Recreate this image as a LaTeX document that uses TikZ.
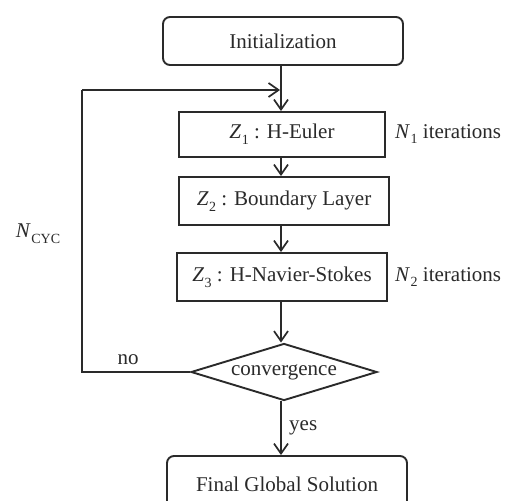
\documentclass[tikz,border=0pt]{standalone}
\usepackage{fontspec}
\setmainfont{Liberation Serif}
\usetikzlibrary{shapes.geometric,arrows.meta}
\definecolor{ink}{HTML}{2A2A2A}
\newcommand{\sym}[2]{\textit{#1}\kern0.5pt\raisebox{-0.28em}{\fontsize{14}{16}\selectfont #2}}
\begin{document}
\begin{tikzpicture}[x=1pt,y=-1pt,
  every node/.style={text=ink, font=\fontsize{21}{24}\selectfont},
  box/.style={draw=ink, line width=1.9pt, inner sep=0pt},
  rbox/.style={box, rounded corners=7pt},
  dia/.style={draw=ink, line width=1.9pt, diamond, shape aspect=3.2, inner sep=0pt, minimum width=186pt, minimum height=57pt},
  arr/.style={draw=ink, line width=1.9pt, -{Straight Barb[length=10pt,width=14pt,line width=1.7pt]}},
  ln/.style={draw=ink, line width=1.9pt},
  lab/.style={inner sep=0pt}]
\useasboundingbox (0,0) rectangle (513,500);
\clip (0,0) rectangle (513,500);
\fill[white] (0,0) rectangle (513,500);

\node[rbox, minimum width=240pt, minimum height=48pt] (init) at (283,41) {Initialization};
\node[box, minimum width=206pt, minimum height=45pt] (z1) at (282,134.5) {\sym{Z}{1} : H-Euler};
\node[box, minimum width=210pt, minimum height=48pt] (z2) at (284,201) {\sym{Z}{2} : Boundary Layer};
\node[box, minimum width=210pt, minimum height=48pt] (z3) at (282,277) {\sym{Z}{3} : H-Navier-Stokes};
\node[dia] (conv) at (284,372) {convergence};
\node[rbox, minimum width=240pt, minimum height=56pt] (final) at (287,484) {Final Global Solution};

\node[lab, anchor=west] (n1) at (395,134) {\sym{N}{1} iterations};
\node[lab, anchor=west] (n2) at (395,277) {\sym{N}{2} iterations};
\node[lab] (ncyc) at (38,234) {\sym{N}{CYC}};
\node[lab] (no) at (128,360) {no};
\node[lab, anchor=west] (yes) at (289,428) {yes};

\coordinate (col) at (281,0);
\coordinate (fb) at (82,90);

\draw[arr] (init.south -| col) -- (z1.north -| col);
\draw[arr] (z1.south -| col) -- (z2.north -| col);
\draw[arr] (z2.south -| col) -- (z3.north -| col);
\draw[arr] (z3.south -| col) -- (conv.north -| col);
\draw[arr] (conv.south -| col) -- (final.north -| col);
\draw[ln] (conv.west) -| (fb);
\draw[arr] (fb) -- ([xshift=-1pt]fb -| col);
\end{tikzpicture}
\end{document}
